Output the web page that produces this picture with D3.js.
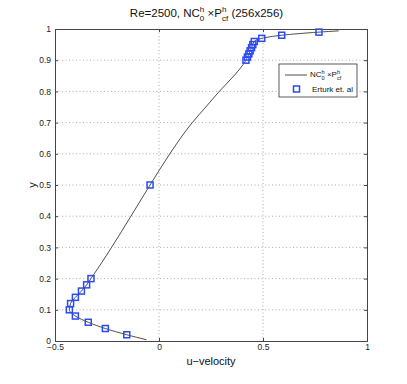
<!DOCTYPE html>
<html>
<head>
<meta charset="utf-8">
<script src="https://cdn.jsdelivr.net/npm/d3@7"></script>
<style>
  body { margin: 0; background: #fff; }
  text { font-family: "Liberation Sans", Arial, sans-serif; }
</style>
</head>
<body>
<svg id="chart"></svg>
<script>
// Erturk et al. reference points (u along vertical centerline)
const erturkY = [0.99, 0.98, 0.97, 0.96, 0.95, 0.94, 0.93, 0.92, 0.91, 0.90, 0.50,
                 0.20, 0.18, 0.16, 0.14, 0.12, 0.10, 0.08, 0.06, 0.04, 0.02];
const erturkU = [0.769, 0.590, 0.494, 0.458, 0.451, 0.445, 0.438, 0.432, 0.425, 0.418, -0.043,
                 -0.327, -0.348, -0.373, -0.402, -0.425, -0.431, -0.402, -0.340, -0.258, -0.155];

// computed profile (256x256)
const curveY = [0.004, 0.02, 0.04, 0.06, 0.08, 0.10, 0.12, 0.14, 0.16, 0.18, 0.20, 0.30, 0.40,
                0.50, 0.60, 0.70, 0.75, 0.80, 0.85, 0.875, 0.90, 0.92, 0.94, 0.96, 0.97, 0.98, 0.99, 0.994];
const curveU = [-0.06, -0.155, -0.258, -0.340, -0.402, -0.431, -0.425, -0.402, -0.373, -0.348, -0.327, -0.228, -0.135,
                -0.043, 0.052, 0.16, 0.225, 0.29, 0.36, 0.392, 0.418, 0.432, 0.445, 0.458, 0.494, 0.590, 0.769, 0.864];

const xTicks = [-0.5, 0, 0.5, 1];
const yTicks = [0, 0.1, 0.2, 0.3, 0.4, 0.5, 0.6, 0.7, 0.8, 0.9, 1];

const W = 407, H = 384;
const margin = { top: 29, left: 55 };
const width = 312, height = 312;

const svg = d3.select("#chart").attr("width", W).attr("height", H);
const g = svg.append("g").attr("transform", `translate(${margin.left},${margin.top})`);

const x = d3.scaleLinear().domain([-0.5, 1]).range([0, width]);
const y = d3.scaleLinear().domain([0, 1]).range([height, 0]);
const fmt = d => d === 0 ? "0" : d3.format("")(d).replace("-", "\u2212");

// grid
g.append("g").selectAll("line").data(xTicks.slice(1, -1)).join("line")
    .attr("x1", d => x(d)).attr("x2", d => x(d)).attr("y1", 0).attr("y2", height)
    .attr("stroke", "#999").attr("stroke-width", 0.8).attr("stroke-dasharray", "1,2.5");
g.append("g").selectAll("line").data(yTicks.slice(1, -1)).join("line")
    .attr("y1", d => y(d)).attr("y2", d => y(d)).attr("x1", 0).attr("x2", width)
    .attr("stroke", "#999").attr("stroke-width", 0.8).attr("stroke-dasharray", "1,2.5");

// axes
const xAxis = g.append("g").attr("transform", `translate(0,${height})`)
    .call(d3.axisBottom(x).tickValues(xTicks).tickSize(-3).tickPadding(4).tickFormat(fmt));
const yAxis = g.append("g")
    .call(d3.axisLeft(y).tickValues(yTicks).tickSize(-3).tickPadding(4).tickFormat(fmt));
g.append("g").call(d3.axisTop(x).tickValues(xTicks).tickSize(-3).tickFormat(""));
g.append("g").attr("transform", `translate(${width},0)`)
    .call(d3.axisRight(y).tickValues(yTicks).tickSize(-3).tickFormat(""));
g.selectAll(".domain").attr("stroke", "#444");
g.selectAll(".tick line").attr("stroke", "#444");
g.selectAll(".tick text").attr("font-size", 8.5).attr("fill", "#222")
    .attr("font-family", "Liberation Sans, Arial, sans-serif");
xAxis.selectAll(".tick text").attr("dy", "0.55em");

// curve
const line = d3.line().x((d, i) => x(curveU[i])).y((d, i) => y(curveY[i])).curve(d3.curveMonotoneY);
g.append("path").datum(curveY).attr("d", line)
    .attr("fill", "none").attr("stroke", "#222").attr("stroke-width", 0.8);

// markers
const ms = 6;
g.append("g").selectAll("rect").data(erturkY).join("rect")
    .attr("x", (d, i) => x(erturkU[i]) - ms / 2)
    .attr("y", d => y(d) - ms / 2)
    .attr("width", ms).attr("height", ms)
    .attr("fill", "none").attr("stroke", "#2b4bf0").attr("stroke-width", 1.5);

// text with stacked sub/superscripts
function richText(sel, parts, size) {
    const t = sel.append("text").attr("font-size", size).attr("fill", "#111");
    let dx = 0, dy = 0;
    parts.forEach(p => {
        if (typeof p === "string") {
            t.append("tspan").attr("dx", dx).attr("dy", dy).text(p);
            dx = 0; dy = 0;
        } else {
            const sup = t.append("tspan").attr("font-size", size * 0.7)
                .attr("dx", dx).attr("dy", dy - size * 0.4).text(p[0]);
            const w1 = sup.node().getComputedTextLength();
            const sub = t.append("tspan").attr("font-size", size * 0.7)
                .attr("dx", -w1).attr("dy", size * 0.75).text(p[1]);
            const w2 = sub.node().getComputedTextLength();
            dx = Math.max(w1 - w2, 0);
            dy = -size * 0.35;
        }
    });
    return t;
}

const title = richText(svg, ["Re=2500, NC", ["h", "0"], " \u00d7P", ["h", "cf"], " (256x256)"], 11.5);
const tw = title.node().getComputedTextLength();
title.attr("x", margin.left + width / 2 - tw / 2).attr("y", 17);

svg.append("text").attr("x", margin.left + width / 2).attr("y", 365)
    .attr("text-anchor", "middle").attr("font-size", 11).attr("fill", "#111").text("u\u2212velocity");
svg.append("text").attr("transform", `translate(36,${margin.top + height / 2}) rotate(-90)`)
    .attr("text-anchor", "middle").attr("font-size", 11).attr("fill", "#111").text("y");

// legend
const lg = svg.append("g").attr("transform", "translate(279,64)");
lg.append("rect").attr("width", 78).attr("height", 33).attr("fill", "#fff").attr("stroke", "#333").attr("stroke-width", 0.8);
lg.append("line").attr("x1", 6).attr("x2", 28).attr("y1", 11).attr("y2", 11).attr("stroke", "#222").attr("stroke-width", 0.8);
richText(lg, ["NC", ["h", "0"], " \u00d7P", ["h", "cf"]], 8).attr("x", 31).attr("y", 13);
lg.append("rect").attr("x", 17.5 - ms / 2).attr("y", 25 - ms / 2).attr("width", ms).attr("height", ms)
    .attr("fill", "none").attr("stroke", "#2b4bf0").attr("stroke-width", 1.5);
lg.append("text").attr("x", 33).attr("y", 28).attr("font-size", 8).attr("fill", "#111").text("Erturk et. al");
</script>
</body>
</html>
